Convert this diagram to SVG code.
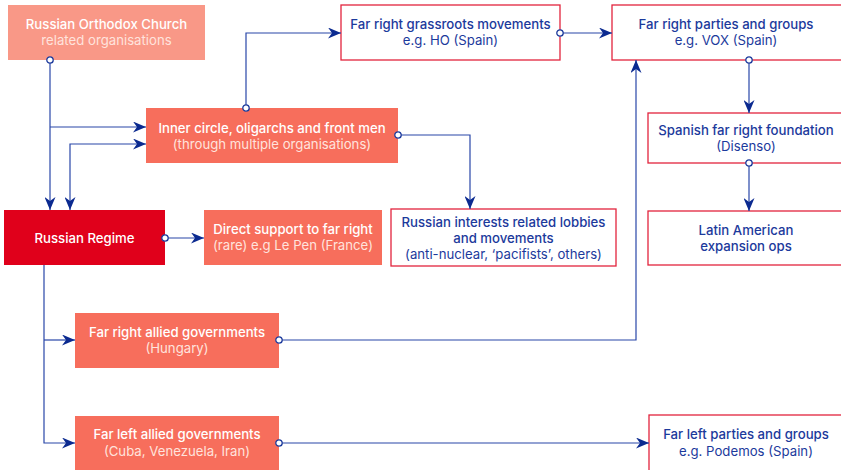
<svg xmlns="http://www.w3.org/2000/svg" width="841" height="470" viewBox="0 0 841 470">
<style>
text{font-family:Inter,"Liberation Sans",sans-serif;font-size:13.2px;text-anchor:middle}
.t{font-weight:500}
.s{font-weight:400}
.w{fill:#ffffff}
.ws{fill:#ffe3dd}
.b{fill:#1c3a9c}
.roc{fill:#f99887}
.sal{fill:#f76e5c}
.reg{fill:#e0001b}
.wb{fill:#ffffff;stroke:#e2243d;stroke-width:1.3}
.c path{fill:none;stroke:#2846a8;stroke-width:1.2}
</style>
<defs>
<marker id="ar" viewBox="0 0 13 11" refX="13" refY="5.5" markerWidth="13" markerHeight="11" markerUnits="userSpaceOnUse" orient="auto-start-reverse">
<path d="M0,0 L13,5.5 L0,11 L4,5.5 z" fill="#0b2a90"/>
</marker>
<marker id="dt" viewBox="0 0 9 9" refX="4.5" refY="4.5" markerWidth="9" markerHeight="9" markerUnits="userSpaceOnUse">
<circle cx="4.5" cy="4.5" r="3.2" fill="#ffffff" stroke="#1c3a9c" stroke-width="1.3"/>
</marker>
</defs>

<g id="roc">
<rect class="roc" x="8" y="5" width="197" height="55"/>
<text class="t w" x="106.5" y="28.5">Russian Orthodox Church</text>
<text class="s ws" x="106.5" y="45">related organisations</text>
</g>
<g id="inner">
<rect class="sal" x="146" y="108" width="252" height="55"/>
<text class="t w" x="272" y="132.5">Inner circle, oligarchs and front men</text>
<text class="s ws" x="272" y="148.5">(through multiple organisations)</text>
</g>
<g id="regime">
<rect class="reg" x="4" y="210" width="161" height="55"/>
<text class="t w" x="84.5" y="242.5">Russian Regime</text>
</g>
<g id="direct">
<rect class="sal" x="204" y="210" width="178" height="55"/>
<text class="t w" x="293" y="234">Direct support to far right</text>
<text class="s ws" x="293" y="250">(rare) e.g Le Pen (France)</text>
</g>
<g id="grassroots">
<rect class="wb" x="341" y="5" width="219" height="55"/>
<text class="t b" x="450.5" y="28.5">Far right grassroots movements</text>
<text class="s b" x="450.5" y="45">e.g. HO (Spain)</text>
</g>
<g id="vox">
<rect class="wb" x="612" y="5" width="235" height="55"/>
<text class="t b" x="726" y="28.5">Far right parties and groups</text>
<text class="s b" x="726" y="45">e.g. VOX (Spain)</text>
</g>
<g id="disenso">
<rect class="wb" x="648" y="113" width="199" height="50"/>
<text class="t b" x="746" y="134.5">Spanish far right foundation</text>
<text class="s b" x="746" y="151">(Disenso)</text>
</g>
<g id="latin">
<rect class="wb" x="648" y="211" width="199" height="54"/>
<text class="t b" x="746" y="235">Latin American</text>
<text class="t b" x="746" y="251">expansion ops</text>
</g>
<g id="lobbies">
<rect class="wb" x="391" y="209" width="225" height="57"/>
<text class="t b" x="503.5" y="226.5">Russian interests related lobbies</text>
<text class="t b" x="503.5" y="242.5">and movements</text>
<text class="s b" x="503.5" y="258.5">(anti-nuclear, ‘pacifists’, others)</text>
</g>
<g id="farright-gov">
<rect class="sal" x="75" y="313" width="204" height="55"/>
<text class="t w" x="177" y="336.5">Far right allied governments</text>
<text class="s ws" x="177" y="353">(Hungary)</text>
</g>
<g id="farleft-gov">
<rect class="sal" x="75" y="416" width="204" height="56"/>
<text class="t w" x="177" y="439">Far left allied governments</text>
<text class="s ws" x="177" y="455.5">(Cuba, Venezuela, Iran)</text>
</g>
<g id="farleft-parties">
<rect class="wb" x="649" y="415" width="198" height="57"/>
<text class="t b" x="746" y="439">Far left parties and groups</text>
<text class="s b" x="746" y="455.5">e.g. Podemos (Spain)</text>
</g>

<g class="c" id="connectors">
<path d="M50,60 V210" marker-start="url(#dt)" marker-end="url(#ar)"/>
<path d="M50,127 H146" marker-end="url(#ar)"/>
<path d="M70,210 V144 H146" marker-start="url(#ar)" marker-end="url(#ar)"/>
<path d="M246,108 V33 H341" marker-start="url(#dt)" marker-end="url(#ar)"/>
<path d="M398,135 H470 V209" marker-start="url(#dt)" marker-end="url(#ar)"/>
<path d="M165,238 H204" marker-start="url(#dt)" marker-end="url(#ar)"/>
<path d="M560,33 H612" marker-start="url(#dt)" marker-end="url(#ar)"/>
<path d="M749,60 V113" marker-start="url(#dt)" marker-end="url(#ar)"/>
<path d="M749,163 V211" marker-start="url(#dt)" marker-end="url(#ar)"/>
<path d="M44,265 V443 H75" marker-end="url(#ar)"/>
<path d="M44,340 H75" marker-end="url(#ar)"/>
<path d="M279,340 H636 V60" marker-start="url(#dt)" marker-end="url(#ar)"/>
<path d="M279,443 H649" marker-start="url(#dt)" marker-end="url(#ar)"/>
</g>
</svg>
